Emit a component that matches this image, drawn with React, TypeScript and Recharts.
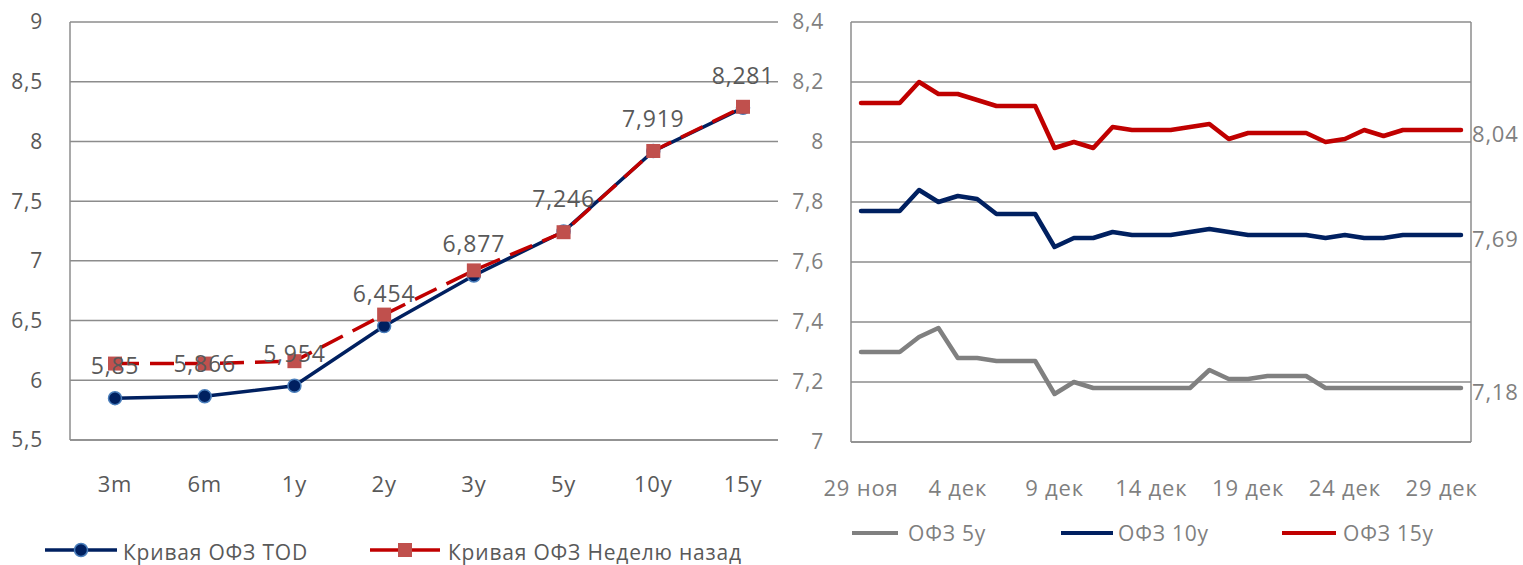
import React from 'react';
import { LineChart, Line, XAxis, YAxis, CartesianGrid, Legend } from 'recharts';

// ---- Left chart: yield curve ----
const tenors = ['3m', '6m', '1y', '2y', '3y', '5y', '10y', '15y'];
const curveToday = [5.85, 5.866, 5.954, 6.454, 6.877, 7.246, 7.919, 8.281];
const curveWeekAgo = [6.14, 6.14, 6.16, 6.55, 6.92, 7.24, 7.92, 8.29];
const leftTicks = [5.5, 6, 6.5, 7, 7.5, 8, 8.5, 9];

// ---- Right chart: OFZ yields by day ----
const dates = [
  '29 ноя', '30 ноя', '1 дек', '2 дек', '3 дек', '4 дек', '5 дек', '6 дек',
  '7 дек', '8 дек', '9 дек', '10 дек', '11 дек', '12 дек', '13 дек', '14 дек',
  '15 дек', '16 дек', '17 дек', '18 дек', '19 дек', '20 дек', '21 дек', '22 дек',
  '23 дек', '24 дек', '25 дек', '26 дек', '27 дек', '28 дек', '29 дек', '30 дек',
];
const ofz5 = [
  7.30, 7.30, 7.30, 7.35, 7.38, 7.28, 7.28, 7.27, 7.27, 7.27, 7.16, 7.20, 7.18, 7.18, 7.18, 7.18,
  7.18, 7.18, 7.24, 7.21, 7.21, 7.22, 7.22, 7.22, 7.18, 7.18, 7.18, 7.18, 7.18, 7.18, 7.18, 7.18,
];
const ofz10 = [
  7.77, 7.77, 7.77, 7.84, 7.80, 7.82, 7.81, 7.76, 7.76, 7.76, 7.65, 7.68, 7.68, 7.70, 7.69, 7.69,
  7.69, 7.70, 7.71, 7.70, 7.69, 7.69, 7.69, 7.69, 7.68, 7.69, 7.68, 7.68, 7.69, 7.69, 7.69, 7.69,
];
const ofz15 = [
  8.13, 8.13, 8.13, 8.20, 8.16, 8.16, 8.14, 8.12, 8.12, 8.12, 7.98, 8.00, 7.98, 8.05, 8.04, 8.04,
  8.04, 8.05, 8.06, 8.01, 8.03, 8.03, 8.03, 8.03, 8.00, 8.01, 8.04, 8.02, 8.04, 8.04, 8.04, 8.04,
];
const rightTicks = [7, 7.2, 7.4, 7.6, 7.8, 8, 8.2, 8.4];

const curveData = tenors.map((t, i) => ({ tenor: t, tod: curveToday[i], week: curveWeekAgo[i] }));
const yieldData = dates.map((d, i) => ({ date: d, y5: ofz5[i], y10: ofz10[i], y15: ofz15[i] }));

const fmt = (v: number) => String(v).replace('.', ',');

const GRID = '#8c8c8c';
const DARK_TEXT = '#595959';
const LIGHT_TEXT = '#7f7f7f';
const NAVY = '#002060';
const RED = '#c00000';
const GRAY = '#808080';
const FONT = "'Open Sans', sans-serif";

const TodDot = (p: any) => (
  <circle key={`tod-${p.index}`} cx={p.cx} cy={p.cy} r={6.5} fill={NAVY} stroke="#4a7ebb" strokeWidth={1.5} />
);
const WeekDot = (p: any) => (
  <rect key={`wk-${p.index}`} x={p.cx - 7} y={p.cy - 7} width={14} height={14} fill="#c0504d" />
);
const TodLabel = (p: any) => (
  <text key={`lbl-${p.index}`} x={p.cx} y={p.cy - 24} textAnchor="middle" fill={DARK_TEXT} fontSize={23}>
    {fmt(p.value)}
  </text>
);
const EndLabel = (p: any) =>
  p.index === dates.length - 1 ? (
    <text key={`end-${p.index}`} x={p.cx + 11} y={p.cy + 4} dy="0.355em" fill={LIGHT_TEXT} fontSize={22}>
      {fmt(p.value)}
    </text>
  ) : (
    <g key={`end-${p.index}`} />
  );

const LeftLegend = () => (
  <svg width={778} height={40} style={{ fontFamily: FONT, letterSpacing: '0.8px' }}>
    <line x1={45} x2={117} y1={20} y2={20} stroke={NAVY} strokeWidth={3.5} />
    <circle cx={81} cy={20} r={6.5} fill={NAVY} stroke="#4a7ebb" strokeWidth={1.5} />
    <text x={123} y={30} fill={DARK_TEXT} fontSize={21}>Кривая ОФЗ TOD</text>
    <line x1={370} x2={440} y1={20} y2={20} stroke={RED} strokeWidth={3.5} />
    <rect x={398} y={13} width={14} height={14} fill="#c0504d" />
    <text x={448} y={30} fill={DARK_TEXT} fontSize={21}>Кривая ОФЗ Неделю назад</text>
  </svg>
);

const RightLegend = () => (
  <svg width={745} height={40} style={{ fontFamily: FONT, letterSpacing: '0.8px' }}>
    <line x1={74} x2={120} y1={23} y2={23} stroke={GRAY} strokeWidth={4} />
    <text x={130} y={31} fill={LIGHT_TEXT} fontSize={21}>ОФЗ 5y</text>
    <line x1={283} x2={335} y1={23} y2={23} stroke={NAVY} strokeWidth={4} />
    <text x={340} y={31} fill={LIGHT_TEXT} fontSize={21}>ОФЗ 10y</text>
    <line x1={504} x2={558} y1={23} y2={23} stroke={RED} strokeWidth={4} />
    <text x={565} y={31} fill={LIGHT_TEXT} fontSize={21}>ОФЗ 15y</text>
  </svg>
);

export default function App() {
  return (
    <div
      style={{
        position: 'absolute',
        left: 0,
        top: 0,
        width: 1523,
        height: 565,
        background: '#fff',
        fontFamily: FONT,
        letterSpacing: '0.8px',
      }}
    >
      <div style={{ position: 'absolute', left: 0, top: 0, width: 778, height: 565, overflow: 'hidden' }}>
        <LineChart width={800} height={565} data={curveData} margin={{ top: 22, right: 12, left: 0, bottom: 85 }}>
          <CartesianGrid horizontal vertical={false} stroke={GRID} strokeWidth={1.5} />
          <XAxis
            dataKey="tenor"
            interval={0}
            height={40}
            padding={{ left: 45, right: 45 }}
            axisLine={{ stroke: GRID, strokeWidth: 1.5 }}
            tickLine={false}
            tickSize={0}
            tickMargin={36}
            tick={{ fill: DARK_TEXT, fontSize: 22 }}
          />
          <YAxis
            domain={[5.5, 9]}
            ticks={leftTicks}
            width={70}
            axisLine={{ stroke: GRID, strokeWidth: 1.5 }}
            tickLine={false}
            tickSize={0}
            tickMargin={27}
            tickFormatter={fmt}
            tick={{ fill: DARK_TEXT, fontSize: 21 }}
          />
          <Line dataKey="tod" stroke={NAVY} strokeWidth={3.5} dot={TodDot} activeDot={false} isAnimationActive={false} />
          <Line
            dataKey="week"
            stroke={RED}
            strokeWidth={3.5}
            strokeDasharray="24 11"
            dot={WeekDot}
            activeDot={false}
            isAnimationActive={false}
          />
          <Line dataKey="tod" stroke="none" dot={TodLabel} activeDot={false} isAnimationActive={false} legendType="none" />
          <Legend verticalAlign="middle" align="center" wrapperStyle={{ top: 530, left: 0, width: 778 }} content={LeftLegend} />
        </LineChart>
      </div>
      <div style={{ position: 'absolute', left: 778, top: 0, width: 745, height: 565 }}>
        <LineChart width={745} height={565} data={yieldData} margin={{ top: 22, right: 0, left: 0, bottom: 83 }}>
          <CartesianGrid horizontal vertical={false} stroke={GRID} strokeWidth={1.5} />
          <XAxis
            dataKey="date"
            interval={4}
            height={40}
            padding={{ left: 10, right: 10 }}
            axisLine={{ stroke: GRID, strokeWidth: 1.5 }}
            tickLine={false}
            tickSize={0}
            tickMargin={38}
            tick={{ fill: LIGHT_TEXT, fontSize: 22 }}
          />
          <YAxis
            domain={[7, 8.4]}
            ticks={rightTicks}
            width={73}
            axisLine={{ stroke: GRID, strokeWidth: 1.5 }}
            tickLine={false}
            tickSize={0}
            tickMargin={27}
            tickFormatter={fmt}
            tick={{ fill: LIGHT_TEXT, fontSize: 21 }}
          />
          <YAxis
            yAxisId="right"
            orientation="right"
            domain={[7, 8.4]}
            ticks={rightTicks}
            width={52}
            axisLine={{ stroke: GRID, strokeWidth: 1.5 }}
            tickLine={false}
            tick={false}
          />
          <Line dataKey="y5" stroke={GRAY} strokeWidth={4.5} strokeLinecap="round" strokeLinejoin="round" dot={EndLabel} activeDot={false} isAnimationActive={false} />
          <Line dataKey="y10" stroke={NAVY} strokeWidth={4.5} strokeLinecap="round" strokeLinejoin="round" dot={EndLabel} activeDot={false} isAnimationActive={false} />
          <Line dataKey="y15" stroke={RED} strokeWidth={4.5} strokeLinecap="round" strokeLinejoin="round" dot={EndLabel} activeDot={false} isAnimationActive={false} />
          <Legend verticalAlign="middle" align="center" wrapperStyle={{ top: 510, left: 0, width: 745 }} content={RightLegend} />
        </LineChart>
      </div>
    </div>
  );
}
